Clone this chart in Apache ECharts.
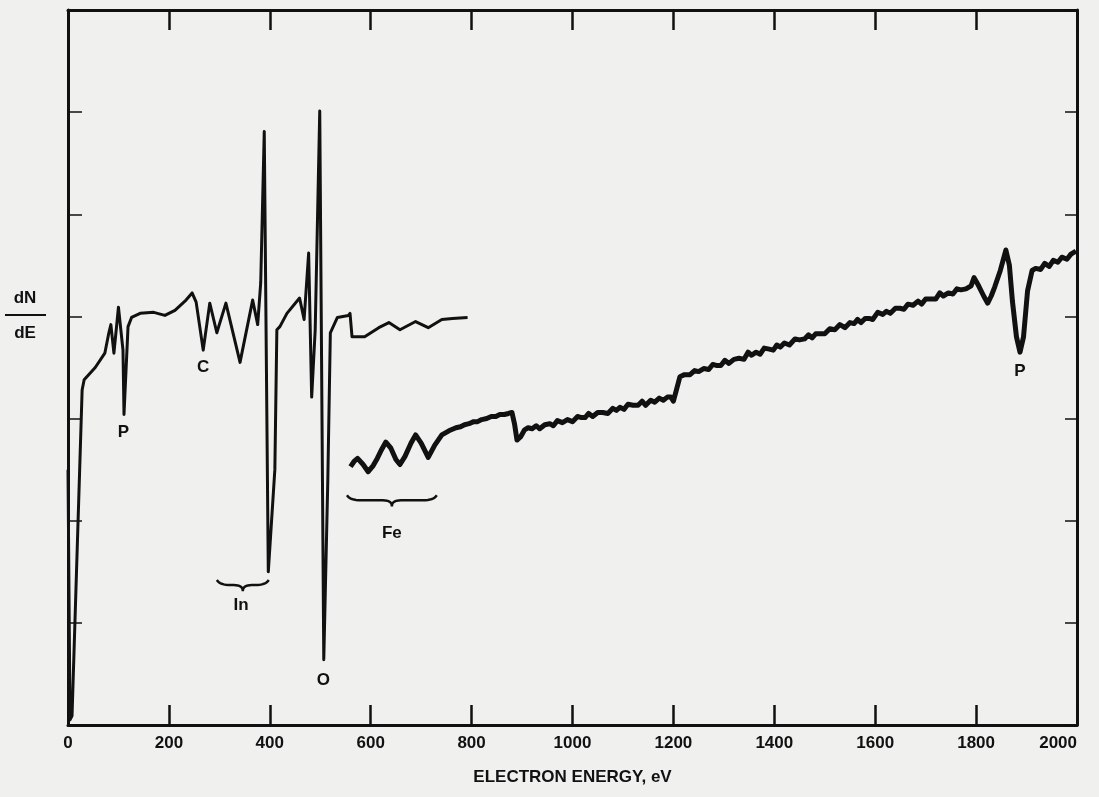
<!DOCTYPE html>
<html lang="en">
<head>
<meta charset="UTF-8">
<title>Auger spectrum</title>
<style>
  html, body { margin: 0; padding: 0; background: #f0f0ef; }
</style>
</head>
<body>
<div id="main" style="width: 1099px;height: 797px;"></div>
<script src="https://cdn.jsdelivr.net/npm/echarts@6/dist/echarts.min.js"></script>
<script>
// low energy sweep (0 - 800 eV)
var energy1 = [0, 4, 8, 28, 32, 54, 73, 81, 85, 91, 100, 109, 111, 119, 126, 143, 170, 192, 212, 234, 246, 254, 268, 281, 295, 313, 341, 366, 376, 382, 389, 397, 410, 414, 420, 434, 459, 468, 477, 483, 490, 499, 507, 515, 520, 534, 556, 559, 563, 588, 616, 636, 658, 689, 714, 741, 762, 792];
var signal1 = [2.50, 0.05, 0.09, 3.28, 3.38, 3.50, 3.64, 3.84, 3.92, 3.64, 4.09, 3.67, 3.04, 3.90, 3.99, 4.03, 4.04, 4.01, 4.06, 4.16, 4.23, 4.14, 3.67, 4.13, 3.84, 4.13, 3.55, 4.16, 3.92, 4.33, 5.81, 1.50, 2.50, 3.87, 3.90, 4.03, 4.18, 3.97, 4.62, 3.21, 3.87, 6.01, 0.64, 2.40, 3.84, 3.99, 4.01, 4.03, 3.80, 3.80, 3.89, 3.94, 3.87, 3.95, 3.89, 3.97, 3.98, 3.99];

// high gain sweep (560 - 2000 eV)
var energy2 = [560, 567, 574, 585, 595, 605, 613, 622, 630, 640, 650, 658, 668, 680, 689, 700, 714, 727, 741, 755, 769, 778, 786, 795, 804, 812, 820, 830, 839, 848, 856, 865, 873, 880, 885, 890, 897, 905, 912, 920, 928, 935, 945, 955, 962, 970, 980, 990, 1000, 1010, 1018, 1025, 1032, 1040, 1050, 1060, 1070, 1080, 1087, 1094, 1102, 1110, 1120, 1130, 1138, 1145, 1155, 1163, 1172, 1180, 1188, 1195, 1200, 1206, 1213, 1222, 1233, 1242, 1250, 1260, 1270, 1278, 1285, 1294, 1302, 1310, 1320, 1330, 1340, 1348, 1355, 1364, 1372, 1380, 1390, 1398, 1405, 1412, 1420, 1430, 1441, 1450, 1460, 1468, 1475, 1482, 1490, 1500, 1510, 1520, 1530, 1540, 1550, 1558, 1565, 1572, 1580, 1588, 1595, 1605, 1615, 1622, 1630, 1640, 1649, 1657, 1665, 1675, 1685, 1692, 1700, 1710, 1720, 1728, 1735, 1745, 1754, 1762, 1770, 1780, 1790, 1796, 1805, 1815, 1823, 1830, 1837, 1848, 1859, 1866, 1872, 1880, 1887, 1894, 1902, 1911, 1918, 1928, 1936, 1945, 1953, 1962, 1970, 1980, 1988, 1998];
var signal2 = [2.53, 2.58, 2.61, 2.55, 2.48, 2.54, 2.61, 2.70, 2.77, 2.71, 2.60, 2.55, 2.63, 2.76, 2.84, 2.76, 2.62, 2.74, 2.84, 2.88, 2.91, 2.92, 2.94, 2.95, 2.97, 2.97, 2.99, 3.00, 3.02, 3.02, 3.04, 3.04, 3.05, 3.06, 2.95, 2.79, 2.82, 2.89, 2.91, 2.90, 2.93, 2.90, 2.94, 2.95, 2.93, 2.98, 2.96, 2.99, 2.97, 3.02, 3.01, 3.01, 3.05, 3.02, 3.06, 3.06, 3.05, 3.10, 3.08, 3.11, 3.09, 3.14, 3.13, 3.13, 3.17, 3.13, 3.18, 3.16, 3.20, 3.18, 3.21, 3.21, 3.17, 3.28, 3.41, 3.43, 3.43, 3.47, 3.46, 3.49, 3.48, 3.53, 3.52, 3.52, 3.57, 3.54, 3.58, 3.59, 3.58, 3.65, 3.62, 3.65, 3.63, 3.69, 3.68, 3.67, 3.72, 3.70, 3.74, 3.72, 3.78, 3.77, 3.78, 3.82, 3.79, 3.83, 3.83, 3.83, 3.88, 3.87, 3.92, 3.89, 3.94, 3.93, 3.97, 3.94, 3.98, 3.98, 3.97, 4.04, 4.02, 4.05, 4.03, 4.08, 4.08, 4.07, 4.12, 4.11, 4.15, 4.12, 4.17, 4.17, 4.17, 4.23, 4.20, 4.23, 4.22, 4.27, 4.26, 4.27, 4.30, 4.38, 4.30, 4.20, 4.13, 4.20, 4.29, 4.45, 4.65, 4.50, 4.15, 3.80, 3.65, 3.80, 4.25, 4.45, 4.47, 4.46, 4.52, 4.49, 4.55, 4.53, 4.58, 4.56, 4.61, 4.64];

// peak labels: [text, energy, signal]
var peakLabels = [['P', 110, 2.87], ['C', 268, 3.50], ['In', 343, 1.17], ['O', 506, 0.44], ['Fe', 642, 1.88], ['P', 1887, 3.46]];
// braces: [from energy, to energy, signal]
var braces = [[295, 398, 1.37], [553, 731, 2.20]];

function pairs(xs, ys) {
    var out = [];
    for (var i = 0; i < xs.length; i++) out.push([xs[i], ys[i]]);
    return out;
}

var chart = echarts.init(document.getElementById('main'));
var font = 'Liberation Sans';
var ink = '#111';

function xAxisAt(pos, labels) {
    return {
        type: 'value', min: 0, max: 2000, interval: 200, position: pos,
        axisLine: { onZero: false, lineStyle: { color: ink, width: 3 } },
        axisTick: { inside: true, length: 20, lineStyle: { color: ink, width: 2.5 } },
        axisLabel: {
            show: labels, color: ink, fontFamily: font, fontWeight: 'bold', fontSize: 17, margin: 10,
            alignMaxLabel: 'right',
            formatter: function (v) { return String(v); }
        },
        splitLine: { show: false }
    };
}
function yAxisAt(pos, len) {
    return {
        type: 'value', min: 0, max: 7, interval: 1, position: pos,
        axisLine: { show: true, onZero: false, lineStyle: { color: ink, width: 3 } },
        axisTick: { show: true, inside: true, length: len, lineStyle: { color: ink, width: 1.5 } },
        axisLabel: { show: false },
        splitLine: { show: false }
    };
}

var bottomAxis = xAxisAt('bottom', true);
bottomAxis.name = 'ELECTRON ENERGY, eV';
bottomAxis.nameLocation = 'middle';
bottomAxis.nameGap = 44;
bottomAxis.nameTextStyle = { color: ink, fontFamily: font, fontWeight: 'bold', fontSize: 17 };

chart.setOption({
    backgroundColor: '#f0f0ef',
    animation: false,
    grid: { left: 68, right: 22, top: 10, bottom: 72 },
    xAxis: [bottomAxis, xAxisAt('top', false)],
    yAxis: [yAxisAt('left', 14), yAxisAt('right', 12)],
    series: [
        {
            type: 'line', data: pairs(energy1, signal1), showSymbol: false,
            lineStyle: { color: ink, width: 3, join: 'round' }
        },
        {
            type: 'line', data: pairs(energy2, signal2), showSymbol: false,
            lineStyle: { color: ink, width: 5, join: 'round' }
        }
    ]
});

// annotations placed through the chart's own scales
var graphics = [];
peakLabels.forEach(function (p) {
    var pt = chart.convertToPixel({ gridIndex: 0 }, [p[1], p[2]]);
    graphics.push({
        type: 'text', x: pt[0], y: pt[1],
        style: { text: p[0], fill: ink, font: 'bold 17px ' + font, textAlign: 'center', textVerticalAlign: 'middle' }
    });
});

function quad(p0, p1, p2, pts) {
    for (var t = 0; t <= 1.0001; t += 0.125) {
        var u = 1 - t;
        pts.push([u * u * p0[0] + 2 * u * t * p1[0] + t * t * p2[0], u * u * p0[1] + 2 * u * t * p1[1] + t * t * p2[1]]);
    }
}
braces.forEach(function (b) {
    var a = chart.convertToPixel({ gridIndex: 0 }, [b[0], b[2]]);
    var c = chart.convertToPixel({ gridIndex: 0 }, [b[1], b[2]]);
    var y = a[1], x1 = a[0], x2 = c[0], xm = (x1 + x2) / 2;
    var pts = [];
    quad([x1, y - 5], [x1 + 3, y], [x1 + 14, y], pts);
    quad([xm - 9, y], [xm, y], [xm, y + 6], pts);
    quad([xm, y + 6], [xm, y], [xm + 9, y], pts);
    quad([x2 - 14, y], [x2 - 3, y], [x2, y - 5], pts);
    graphics.push({
        type: 'polyline', shape: { points: pts },
        style: { fill: null, stroke: ink, lineWidth: 2.5 }
    });
});
// dN/dE fraction
graphics.push({ type: 'text', x: 25, y: 298, style: { text: 'dN', fill: ink, font: 'bold 17px ' + font, textAlign: 'center', textVerticalAlign: 'middle' } });
graphics.push({ type: 'line', shape: { x1: 5, y1: 315, x2: 46, y2: 315 }, style: { stroke: ink, lineWidth: 2 } });
graphics.push({ type: 'text', x: 25, y: 333, style: { text: 'dE', fill: ink, font: 'bold 17px ' + font, textAlign: 'center', textVerticalAlign: 'middle' } });

chart.setOption({ graphic: graphics });
</script>
</body>
</html>
